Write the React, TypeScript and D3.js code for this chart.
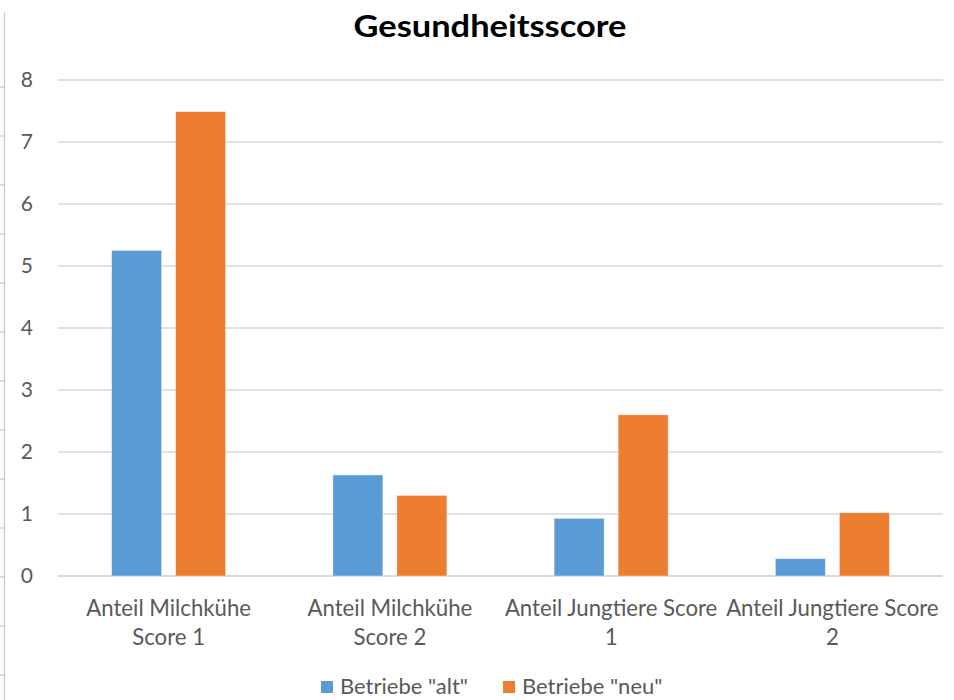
import React from "react";
import * as d3 from "d3";

const categories: string[][] = [
  ["Anteil Milchkühe", "Score 1"],
  ["Anteil Milchkühe", "Score 2"],
  ["Anteil Jungtiere Score", "1"],
  ["Anteil Jungtiere Score", "2"],
];
const seriesNames = ['Betriebe "alt"', 'Betriebe "neu"'];
const altValues = [5.25, 1.63, 0.93, 0.28];
const neuValues = [7.49, 1.3, 2.6, 1.02];
const yTicks = [0, 1, 2, 3, 4, 5, 6, 7, 8];
const colors = ["#5B9BD5", "#ED7D31"];

const W = 954;
const H = 700;
const M = { left: 58, right: 11, top: 80, bottom: 124 };
const FONT = "Lato, 'Open Sans', sans-serif";

export default function App() {
  const x = d3
    .scaleBand<number>()
    .domain(d3.range(categories.length))
    .range([M.left, W - M.right]);
  const y = d3.scaleLinear().domain([0, 8]).range([H - M.bottom, M.top]);
  const barW = 50;
  const gap = 14;
  const series = [altValues, neuValues];
  const borderTicks = d3.range(87, 700, 49);

  return (
    <svg
      width={W}
      height={H}
      style={{ position: "absolute", left: 0, top: 0, background: "#fff" }}
      fontFamily={FONT}
    >
      {/* left frame artifact */}
      <line x1={4.5} x2={4.5} y1={12} y2={H} stroke="#c8c8c8" strokeWidth={1.2} />
      {borderTicks.map((t) => (
        <line key={t} x1={0} x2={4.5} y1={t} y2={t} stroke="#c8c8c8" strokeWidth={1.2} />
      ))}

      <text
        x={490}
        y={37}
        textAnchor="middle"
        fontSize={30}
        fontWeight="bold"
        fill="#000"
        textLength={273}
        lengthAdjust="spacingAndGlyphs"
      >
        Gesundheitsscore
      </text>

      {yTicks.map((t) => (
        <g key={t}>
          <line
            x1={M.left}
            x2={W - M.right}
            y1={y(t)}
            y2={y(t)}
            stroke="#d9d9d9"
            strokeWidth={t === 0 ? 2 : 1.5}
          />
          <text x={33} y={y(t) + 7} textAnchor="end" fontSize={21} fill="#595959">
            {t}
          </text>
        </g>
      ))}

      {categories.map((c, i) => {
        const cx = (x(i) as number) + x.bandwidth() / 2;
        return (
          <g key={i}>
            {series.map((vals, s) => {
              const bx = s === 0 ? cx - gap / 2 - barW : cx + gap / 2;
              return (
                <rect
                  key={s}
                  x={bx}
                  y={y(vals[i])}
                  width={barW}
                  height={y(0) - y(vals[i])}
                  fill={colors[s]}
                  stroke="#fff"
                  strokeOpacity={0.5}
                  strokeWidth={0.8}
                />
              );
            })}
            {c.map((line, li) => (
              <text
                key={li}
                x={cx}
                y={616 + li * 29}
                textAnchor="middle"
                fontSize={22.2}
                fill="#595959"
              >
                {line}
              </text>
            ))}
          </g>
        );
      })}

      {seriesNames.map((name, s) => {
        const lx = s === 0 ? 321 : 503;
        return (
          <g key={s}>
            <rect x={lx} y={681} width={12} height={12} fill={colors[s]} />
            <text x={lx + 19} y={694} fontSize={22} fill="#595959">
              {name}
            </text>
          </g>
        );
      })}
    </svg>
  );
}
